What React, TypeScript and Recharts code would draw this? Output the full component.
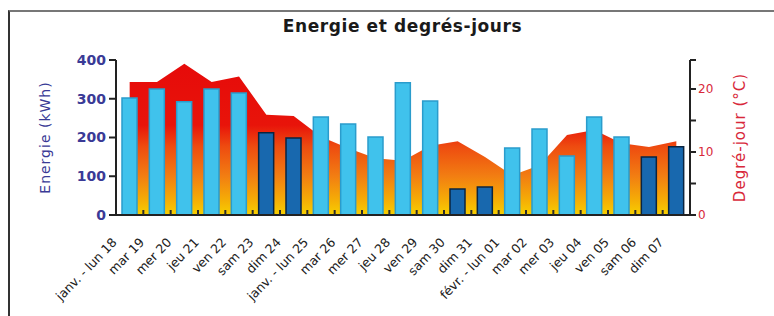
import { ComposedChart, Bar, Area, XAxis, YAxis, Cell } from "recharts";

const days = [
  "janv. - lun 18", "mar 19", "mer 20", "jeu 21", "ven 22", "sam 23", "dim 24",
  "janv. - lun 25", "mar 26", "mer 27", "jeu 28", "ven 29", "sam 30", "dim 31",
  "févr. - lun 01", "mar 02", "mer 03", "jeu 04", "ven 05", "sam 06", "dim 07",
];
const energy = [302, 325, 292, 325, 315, 212, 199, 253, 235, 201, 341, 294, 67, 72, 173, 222, 152, 253, 201, 150, 176];
const degreeDays = [21.1, 21.1, 24, 21.1, 22, 15.9, 15.7, 12.4, 10.6, 9, 8.6, 11, 11.7, 9.2, 6.3, 7.9, 12.7, 13.5, 11.4, 10.8, 11.7];
const energyTicks = [0, 100, 200, 300, 400];
const ddTicks = [0, 5, 10, 15, 20, 24.6];
const ddLabels = [0, 10, 20];

const FONT = "'DejaVu Sans', Verdana, sans-serif";
const PLOT_LEFT = 116;
const PLOT_RIGHT = 690;
const AXIS_Y = 215;

const data = days.map((d, i) => ({
  day: d,
  energy: energy[i],
  dd: degreeDays[i],
  weekend: d.startsWith("sam") || d.startsWith("dim"),
}));

function DayTick({ x, payload, index }: any) {
  const step = (PLOT_RIGHT - PLOT_LEFT) / days.length;
  const tx = x - 12;
  const ty = AXIS_Y + 28;
  return (
    <g>
      {index < days.length - 1 && (
        <line x1={x + step / 2} x2={x + step / 2} y1={AXIS_Y} y2={AXIS_Y - 5} stroke="#2a2a2a" strokeWidth={2} />
      )}
      <text
        x={tx}
        y={ty}
        transform={`rotate(-46, ${tx}, ${ty})`}
        textAnchor="end"
        fontSize={12.5}
        fontFamily={FONT}
        fill="#222"
      >
        {payload.value}
      </text>
    </g>
  );
}

function SideLabel({ viewBox, text, dx, color, size }: any) {
  const cx = viewBox.x + dx;
  const cy = viewBox.y + viewBox.height / 2;
  return (
    <text
      x={cx}
      y={cy}
      transform={`rotate(-90, ${cx}, ${cy})`}
      textAnchor="middle"
      dominantBaseline="middle"
      fontSize={size}
      letterSpacing={1}
      fontFamily={FONT}
      fill={color}
    >
      {text}
    </text>
  );
}

export default function App() {
  return (
    <div style={{ position: "absolute", left: 0, top: 0, width: 774, height: 316, overflow: "hidden", background: "#fff" }}>
      <div
        style={{
          position: "absolute",
          left: 8,
          top: 10,
          width: 800,
          height: 340,
          borderTop: "2px solid #777",
          borderLeft: "2px solid #333",
        }}
      />
      <div
        style={{
          position: "absolute",
          left: 0,
          top: 16,
          width: 805,
          textAlign: "center",
          fontFamily: FONT,
          fontWeight: "bold",
          fontSize: 17,
          letterSpacing: 0.6,
          color: "#1a1a1a",
        }}
      >
        Energie et degrés-jours
      </div>
      <div style={{ position: "absolute", left: 0, top: 0 }}>
        <ComposedChart
          width={774}
          height={316}
          data={data}
          margin={{ top: 60, right: 0, bottom: 21, left: 0 }}
        >
          <defs>
            <linearGradient id="ddFill" gradientUnits="userSpaceOnUse" x1="0" y1="60" x2="0" y2="215">
              <stop offset="0" stopColor="#e60a0a" />
              <stop offset="0.42" stopColor="#e8140a" />
              <stop offset="0.56" stopColor="#ee4c10" />
              <stop offset="0.75" stopColor="#f27e12" />
              <stop offset="0.9" stopColor="#f5ac06" />
              <stop offset="1" stopColor="#f7d000" />
            </linearGradient>
          </defs>
          <XAxis
            dataKey="day"
            height={80}
            interval={0}
            tickLine={false}
            axisLine={{ stroke: "#222", strokeWidth: 2 }}
            tick={<DayTick />}
          />
          <YAxis
            yAxisId="left"
            width={116}
            domain={[0, 400]}
            ticks={energyTicks}
            tickSize={7}
            tickMargin={3}
            axisLine={{ stroke: "#222", strokeWidth: 2 }}
            tickLine={{ stroke: "#222", strokeWidth: 2 }}
            tick={{ fontSize: 14, fill: "#3a3a96", fontWeight: "bold", fontFamily: FONT }}
            label={<SideLabel text="Energie  (kWh)" dx={46} color="#3a3a96" size={14} />}
          />
          <YAxis
            yAxisId="right"
            orientation="right"
            width={84}
            domain={[0, 24.6]}
            ticks={ddTicks}
            tickSize={6}
            tickMargin={2}
            tickFormatter={(v: number) => (ddLabels.includes(v) ? String(v) : "")}
            axisLine={{ stroke: "#222", strokeWidth: 2 }}
            tickLine={{ stroke: "#222", strokeWidth: 2 }}
            tick={{ fontSize: 12, fill: "#d8283a", fontFamily: FONT }}
            label={<SideLabel text="Degré-jour  (°C)" dx={50} color="#d8283a" size={15} />}
          />
          <Area
            yAxisId="right"
            dataKey="dd"
            type="linear"
            stroke="none"
            fill="url(#ddFill)"
            fillOpacity={1}
            isAnimationActive={false}
          />
          <Bar yAxisId="left" dataKey="energy" barSize={15} isAnimationActive={false}>
            {data.map((d, i) => (
              <Cell
                key={i}
                fill={d.weekend ? "#1868ae" : "#40c2ec"}
                stroke={d.weekend ? "#0a2440" : "#2a9ccc"}
                strokeWidth={1.5}
              />
            ))}
          </Bar>
        </ComposedChart>
      </div>
    </div>
  );
}
